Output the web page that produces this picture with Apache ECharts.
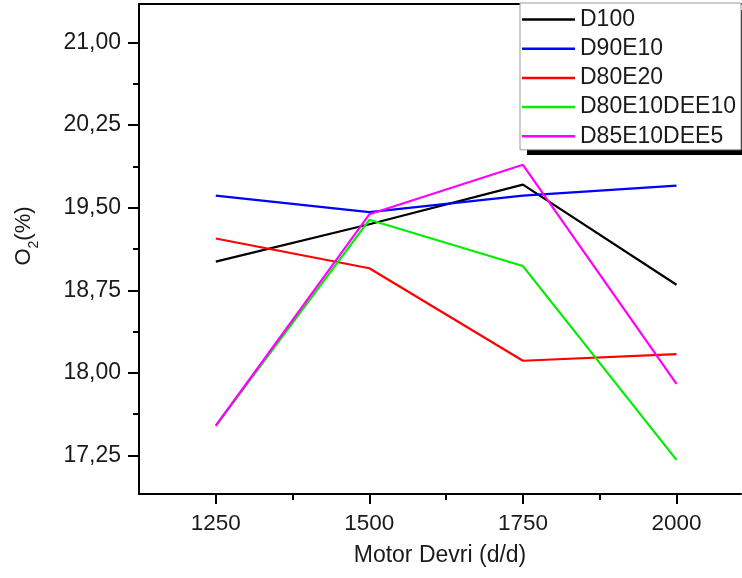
<!DOCTYPE html>
<html>
<head>
<meta charset="utf-8">
<script src="https://cdn.jsdelivr.net/npm/echarts@6/dist/echarts.min.js"></script>
<style>
  html, body { margin: 0; padding: 0; background: #fff; }
  #chart { width: 742px; height: 578px; }
</style>
</head>
<body>
<div id="chart"></div>
<script>
// motor devri (d/d)
const rpm = [1250, 1500, 1750, 2000];
// O2 (%) per fuel blend
const d100 = [19.01, 19.35, 19.71, 18.80];
const d90e10 = [19.61, 19.46, 19.61, 19.70];
const d80e20 = [19.22, 18.95, 18.11, 18.17];
const d80e10dee10 = [17.52, 19.39, 18.97, 17.21];
const d85e10dee5 = [17.52, 19.44, 19.89, 17.90];

const seriesNames = ['D100', 'D90E10', 'D80E20', 'D80E10DEE10', 'D85E10DEE5'];
const seriesValues = [d100, d90e10, d80e20, d80e10dee10, d85e10dee5];
const colors = ['#000000', '#0000ff', '#ff0000', '#00ee00', '#ff00ff'];

// tick labels
const yTicks = [17.25, 18.00, 18.75, 19.50, 20.25, 21.00];
const yMinorTicks = [17.625, 18.375, 19.125, 19.875, 20.625];
const xTicks = [1250, 1500, 1750, 2000];
const xMinorTicks = [1375, 1625, 1875];

const font = 'Liberation Sans, Arial, sans-serif';
const textColor = '#1a1a1a';

const chart = echarts.init(document.getElementById('chart'));

const series = seriesNames.map((name, i) => ({
  name: name,
  type: 'line',
  xAxisIndex: 0,
  yAxisIndex: 0,
  symbol: 'none',
  data: rpm.map((x, j) => [x, seriesValues[i][j]]),
  lineStyle: { color: colors[i], width: 2.2 },
  itemStyle: { color: colors[i] }
}));

const yRange = { min: 16.9, max: 21.35 };
const xRange = { min: 1125, max: 2105 };

const option = {
  animation: false,
  backgroundColor: '#fff',
  grid: { left: 139, right: 1, top: 4, bottom: 84, outerBoundsMode: 'none', containLabel: false },
  // black drop shadow of the legend box
  graphic: [{
    type: 'rect',
    z: 3,
    shape: { x: 527, y: 10, width: 230, height: 145 },
    style: { fill: '#000' }
  }],
  legend: {
    orient: 'vertical',
    left: 520,
    top: 3,
    z: 5,
    padding: [5, 5, 2, 2],
    icon: 'rect',
    itemWidth: 53,
    itemHeight: 2.5,
    itemGap: 6.2,
    backgroundColor: '#fff',
    borderColor: '#999',
    borderWidth: 1,
    selectedMode: false,
    textStyle: { fontFamily: font, fontSize: 23, color: textColor },
    data: seriesNames
  },
  xAxis: [
    {
      type: 'value',
      position: 'bottom',
      min: xRange.min,
      max: xRange.max,
      name: 'Motor Devri (d/d)',
      nameLocation: 'middle',
      nameGap: 50,
      nameTextStyle: { fontFamily: font, fontSize: 23, color: textColor },
      splitLine: { show: false },
      axisLine: { show: true, onZero: false, lineStyle: { color: '#000', width: 2 } },
      axisTick: { show: true, customValues: xTicks, length: 10, lineStyle: { color: '#000', width: 2 } },
      axisLabel: {
        customValues: xTicks,
        margin: 18,
        fontFamily: font,
        fontSize: 22.5,
        color: textColor,
        formatter: v => String(v)
      }
    },
    {
      type: 'value',
      position: 'bottom',
      min: xRange.min,
      max: xRange.max,
      splitLine: { show: false },
      axisLine: { show: false },
      axisLabel: { show: false },
      axisTick: { show: true, customValues: xMinorTicks, length: 6, lineStyle: { color: '#000', width: 2 } }
    },
    {
      type: 'value',
      position: 'top',
      min: xRange.min,
      max: xRange.max,
      splitLine: { show: false },
      axisLine: { show: true, onZero: false, lineStyle: { color: '#000', width: 2 } },
      axisLabel: { show: false },
      axisTick: { show: false }
    }
  ],
  yAxis: [
    {
      type: 'value',
      position: 'left',
      min: yRange.min,
      max: yRange.max,
      name: '{a|O}{b|2}{a|(%)}',
      nameLocation: 'middle',
      nameGap: 104,
      nameTextStyle: {
        padding: [0, 0, 0, 26],
        rich: {
          a: { fontFamily: font, fontSize: 22, color: textColor, lineHeight: 26, verticalAlign: 'bottom' },
          b: { fontFamily: font, fontSize: 14, color: textColor, lineHeight: 26, verticalAlign: 'bottom', padding: [0, 0, -6, 0] }
        }
      },
      splitLine: { show: false },
      axisLine: { show: true, onZero: false, lineStyle: { color: '#000', width: 2 } },
      axisTick: { show: true, customValues: yTicks, length: 11, lineStyle: { color: '#000', width: 2 } },
      axisLabel: {
        customValues: yTicks,
        margin: 18,
        fontFamily: font,
        fontSize: 23,
        color: textColor,
        formatter: v => v.toFixed(2).replace('.', ',')
      }
    },
    {
      type: 'value',
      position: 'left',
      min: yRange.min,
      max: yRange.max,
      splitLine: { show: false },
      axisLine: { show: false },
      axisLabel: { show: false },
      axisTick: { show: true, customValues: yMinorTicks, length: 6, lineStyle: { color: '#000', width: 2 } }
    }
  ],
  series: series
};

chart.setOption(option);
</script>
</body>
</html>
